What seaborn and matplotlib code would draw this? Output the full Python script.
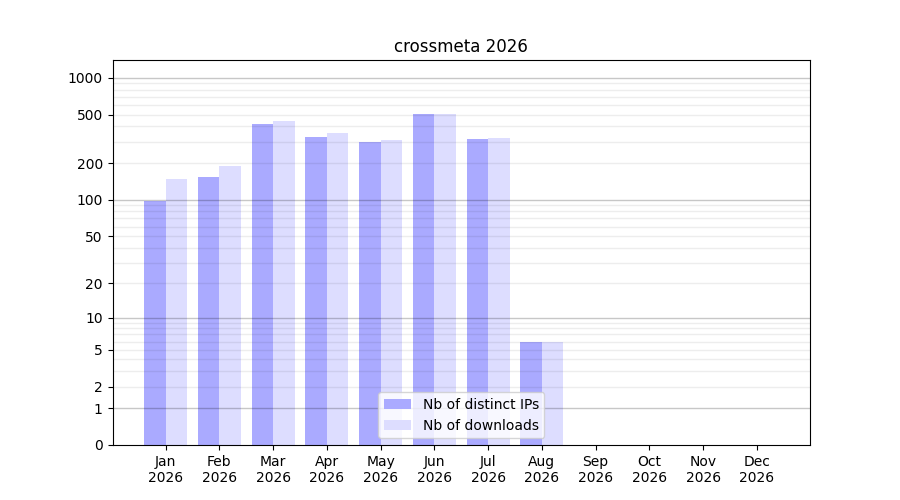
import numpy as np
import matplotlib
matplotlib.use('Agg')
import matplotlib.pyplot as plt
import seaborn as sns
import pandas as pd

months = ['Jan', 'Feb', 'Mar', 'Apr', 'May', 'Jun', 'Jul', 'Aug', 'Sep', 'Oct', 'Nov', 'Dec']
year = '2026'
distinct_ips = [98, 155, 420, 330, 300, 510, 315, 6, 0, 0, 0, 0]
downloads = [148, 190, 440, 355, 310, 510, 320, 6, 0, 0, 0, 0]

major_ticks = [0, 1, 2, 5, 10, 20, 50, 100, 200, 500, 1000]
decades = [1, 10, 100, 1000]

plt.rcParams['font.family'] = ['DejaVu Sans']

fig, ax = plt.subplots(figsize=(9, 5), dpi=100)

df = pd.DataFrame({
    'month': list(range(12)) * 2,
    'value': distinct_ips + downloads,
    'series': ['Nb of distinct IPs'] * 12 + ['Nb of downloads'] * 12,
})

sns.barplot(data=df, x='month', y='value', hue='series',
            palette=['#aaaaff', '#ddddff'], saturation=1, width=0.8,
            dodge=True, ax=ax, native_scale=True, legend=True)

ax.set_yscale('function', functions=(lambda v: np.log10(1 + np.clip(v, 0, None)),
                                     lambda v: 10 ** v - 1))
ax.set_ylim(0, 1400)
ax.set_xlim(-0.99, 11.99)

ax.set_yticks(major_ticks)
ax.set_yticklabels([str(t) for t in major_ticks])
ax.minorticks_off()
ax.grid(False)

# light lines at 2..9 of each decade, darker at each decade
minor = [m * d for d in [1, 10, 100] for m in range(2, 10)]
for v in minor:
    ax.axhline(v, color='black', alpha=0.07, linewidth=1, zorder=3)
for d in decades:
    ax.axhline(d, color='black', alpha=0.22, linewidth=1, zorder=3)

ax.set_xticks(range(12))
ax.set_xticklabels([f'{m}\n{year}' for m in months])
ax.set_xlabel('')
ax.set_ylabel('')
ax.set_title('crossmeta 2026')

leg = ax.legend(loc='lower center')
leg.set_zorder(5)
leg.get_frame().set_alpha(0.8)

fig.subplots_adjust(left=0.125, right=0.9, top=0.88, bottom=0.11)
fig.savefig('out.png', dpi=100)
